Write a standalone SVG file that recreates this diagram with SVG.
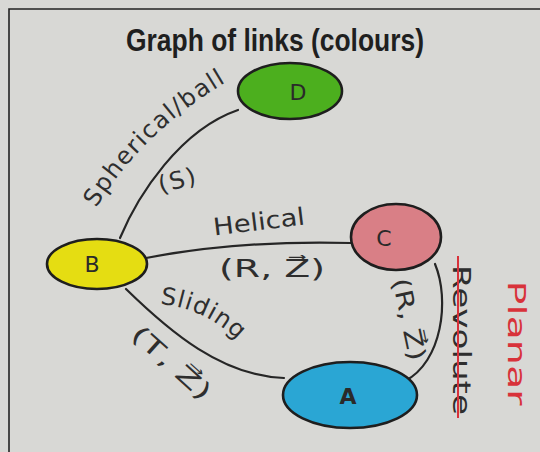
<svg xmlns="http://www.w3.org/2000/svg" width="540" height="452" viewBox="0 0 540 452">
<style>
.hand{font-family:"DejaVu Sans","Liberation Sans",sans-serif;fill:#2e2e2e;font-size:24px}
.edge{fill:none;stroke:#262626;stroke-width:2.2;stroke-linecap:round}
.node{stroke:#1e1e1e;stroke-width:2.6}
.lbl{font-family:"DejaVu Sans",sans-serif;font-size:22px;fill:#2a2a2a;text-anchor:middle}
</style>
<defs>
<path id="pS" d="M96,208 Q150,120 252,68"/>
<path id="pSl" d="M160,304 Q214,309 252,356"/>
</defs>
<rect width="540" height="452" fill="#d8d8d5"/>
<path d="M9,452 V9 H540" fill="none" stroke="#222" stroke-width="1.6"/>
<text x="275" y="51" font-family="Liberation Sans,Arial,sans-serif" font-weight="bold" font-size="31" textLength="298" lengthAdjust="spacingAndGlyphs" text-anchor="middle" fill="#1f1f1f">Graph of links (colours)</text>
<g id="connectors">
<path class="edge" d="M120,238 C138,195 180,130 238,110"/>
<path class="edge" d="M146,258 Q240,240 351,243"/>
<path class="edge" d="M126,289 C170,332 222,376 284,378"/>
<path class="edge" d="M435,264 C450,300 442,362 405,381"/>
</g>
<g id="labels">
<text class="hand" letter-spacing="1.5" font-size="25"><textPath href="#pS">Spherical/ball</textPath></text>
<text class="hand" transform="translate(180,188) rotate(-15)" text-anchor="middle" letter-spacing="2" font-size="28">(S)</text>
<text class="hand" transform="translate(260,230) rotate(-7)" text-anchor="middle" textLength="92" lengthAdjust="spacingAndGlyphs" font-size="27">Helical</text>
<text class="hand" x="272" y="277" text-anchor="middle" textLength="106" lengthAdjust="spacingAndGlyphs" font-size="26">(R, Z⃗)</text>
<text class="hand" letter-spacing="1" font-size="25"><textPath href="#pSl">Sliding</textPath></text>
<text class="hand" transform="translate(166,369) rotate(42)" text-anchor="middle" textLength="98" lengthAdjust="spacingAndGlyphs" font-size="28">(T, Z⃗)</text>
<text class="hand" transform="translate(401,321) rotate(78)" text-anchor="middle" textLength="84" lengthAdjust="spacingAndGlyphs" font-size="25">(R, Z⃗)</text>
<text class="hand" transform="translate(453,340) rotate(90)" text-anchor="middle" font-size="28" textLength="150" lengthAdjust="spacingAndGlyphs">Revolute</text>
<line x1="458" y1="256" x2="458" y2="418" stroke="#d8323a" stroke-width="2"/>
<text class="hand" transform="translate(508,343) rotate(90)" text-anchor="middle" font-size="30" textLength="125" lengthAdjust="spacingAndGlyphs" style="fill:#d8323a">Planar</text>
</g>
<g id="node-D">
<ellipse class="node" cx="290" cy="91" rx="52" ry="28" fill="#4caf1e"/>
<text class="lbl" x="298" y="100">D</text>
</g>
<g id="node-B">
<ellipse class="node" cx="97" cy="264" rx="50" ry="25" fill="#e5dd12"/>
<text class="lbl" x="92" y="272">B</text>
</g>
<g id="node-C">
<ellipse class="node" cx="396" cy="237" rx="45" ry="33" fill="#d97f86"/>
<text class="lbl" x="384" y="246">C</text>
</g>
<g id="node-A">
<ellipse class="node" cx="350" cy="395" rx="67" ry="33" fill="#2aa6d4"/>
<text class="lbl" x="348" y="404" font-weight="bold">A</text>
</g>
</svg>
